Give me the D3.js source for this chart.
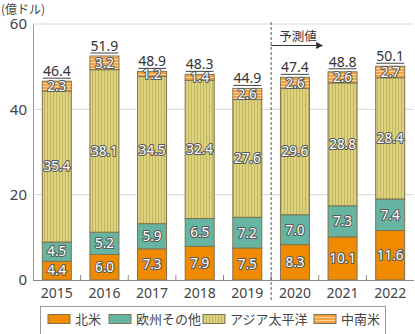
<!DOCTYPE html>
<html><head><meta charset="utf-8">
<script src="https://cdn.jsdelivr.net/npm/d3@7"></script>
<style>body{margin:0;background:#fff}svg{display:block;font-family:"Noto Sans CJK JP","Noto Sans",sans-serif}</style>
</head><body><svg id="c" width="415" height="334"></svg>
<script>
const years = ["2015","2016","2017","2018","2019","2020","2021","2022"];
const northAmerica = [4.4,6.0,7.3,7.9,7.5,8.3,10.1,11.6];
const europeOther = [4.5,5.2,5.9,6.5,7.2,7.0,7.3,7.4];
const asiaPacific = [35.4,38.1,34.5,32.4,27.6,29.6,28.8,28.4];
const latinAmerica = [2.3,3.2,1.2,1.4,2.6,2.6,2.6,2.7];
const totals = [46.4,51.9,48.9,48.3,44.9,47.4,48.8,50.1];
const seriesNames = ["北米","欧州その他","アジア太平洋","中南米"];
const yTicks = [0,20,40,60];

const svg = d3.select("#c");
const defs = svg.append("defs");
const pv = defs.append("pattern").attr("id","pv").attr("patternUnits","userSpaceOnUse").attr("width",3).attr("height",3);
pv.append("rect").attr("width",3).attr("height",3).attr("fill","#dcd282");
pv.append("rect").attr("x",2).attr("width",1).attr("height",3).attr("fill","#c3b75c");
const ph = defs.append("pattern").attr("id","ph").attr("patternUnits","userSpaceOnUse").attr("width",3).attr("height",3);
ph.append("rect").attr("width",3).attr("height",3).attr("fill","#f4a340");
ph.append("rect").attr("y",2).attr("width",3).attr("height",1).attr("fill","#fbd3a0");
const fills = ["#f08a00","#66b5a3","url(#pv)","url(#ph)"];

const x = d3.scaleBand().domain(years).range([33,414]).paddingInner(0.37).paddingOuter(0.185);
const y = d3.scaleLinear().domain([0,60]).range([280,24]);

// gridlines
svg.append("g").selectAll("line").data(yTicks.filter(d=>d>0)).join("line")
  .attr("x1",33).attr("x2",414).attr("y1",d=>y(d)).attr("y2",d=>y(d))
  .attr("stroke","#d8d8d8").attr("stroke-width",1);

// y axis
const ya = svg.append("g").attr("transform","translate(33,0)").call(d3.axisLeft(y).tickValues(yTicks).tickSize(0).tickPadding(6));
ya.select(".domain").attr("stroke","#999");
ya.selectAll("text").attr("font-size",15).attr("fill","#444").attr("font-family","'Noto Sans',sans-serif");

svg.append("text").attr("x",1).attr("y",14).attr("font-size",12).attr("fill","#444").text("(億ドル)");

// stack
const rows = years.map((yr,i)=>({year:yr, s0:northAmerica[i], s1:europeOther[i], s2:asiaPacific[i], s3:latinAmerica[i]}));
const stack = d3.stack().keys(["s0","s1","s2","s3"])(rows);

const g = svg.append("g");
stack.forEach((layer,li)=>{
  g.append("g").selectAll("rect").data(layer).join("rect")
    .attr("x",d=>x(d.data.year)+0.5).attr("width",x.bandwidth()-1)
    .attr("y",d=>y(d[1])).attr("height",d=>y(d[0])-y(d[1]))
    .attr("fill",fills[li]).attr("stroke","#7d7350").attr("stroke-width",1);
});

// segment labels (single text with outline via paint-order)
const vals = [northAmerica,europeOther,asiaPacific,latinAmerica];
stack.forEach((layer,li)=>{
  g.append("g").attr("text-anchor","middle").attr("font-size",13.5).attr("font-family","'Noto Sans',sans-serif")
    .selectAll("text").data(layer).join("text")
    .attr("x",d=>x(d.data.year)+x.bandwidth()/2).attr("y",d=>y((d[0]+d[1])/2)).attr("dy","0.36em")
    .attr("fill","#fff").attr("stroke","#5a5a5a").attr("stroke-width",2.2).attr("stroke-linejoin","round")
    .style("paint-order","stroke")
    .text((d,i)=>vals[li][i].toFixed(1));
});

// totals
const topLayer = stack[3];
const tg = svg.append("g").attr("font-family","'Noto Sans',sans-serif");
topLayer.forEach((d,i)=>{
  const cx = x(d.data.year)+x.bandwidth()/2, ty = y(d[1]);
  tg.append("text").attr("x",cx).attr("y",ty-5).attr("text-anchor","middle").attr("font-size",14).attr("fill","#333").text(totals[i].toFixed(1));
  tg.append("line").attr("x1",cx-14).attr("x2",cx+14).attr("y1",ty-3).attr("y2",ty-3).attr("stroke","#444").attr("stroke-width",1);
});

// x axis
const xa = svg.append("g").attr("transform","translate(0,280)").call(d3.axisBottom(x).tickSize(0).tickPadding(8));
xa.select(".domain").remove();
xa.selectAll("text").attr("font-size",14).attr("fill","#444").attr("font-family","'Noto Sans',sans-serif");
svg.append("line").attr("x1",33).attr("x2",414).attr("y1",280.5).attr("y2",280.5).attr("stroke","#888");
svg.append("g").selectAll("line").data(years.slice(1)).join("line")
  .attr("x1",d=>x(d)-x.step()*x.paddingInner()/2).attr("x2",d=>x(d)-x.step()*x.paddingInner()/2)
  .attr("y1",275).attr("y2",280).attr("stroke","#888");

// forecast divider
const dx = x("2020")-x.step()*x.paddingInner()/2;
svg.append("line").attr("x1",dx).attr("x2",dx).attr("y1",22).attr("y2",300).attr("stroke","#555").attr("stroke-dasharray","3,2");
svg.append("text").attr("x",dx+8).attr("y",41).attr("font-size",12.5).attr("fill","#333").text("予測値");
svg.append("line").attr("x1",dx).attr("x2",dx+46).attr("y1",45.5).attr("y2",45.5).attr("stroke","#333");
svg.append("path").attr("d",`M${dx+52},45.5 L${dx+45},42 L${dx+45},49 Z`).attr("fill","#333");

// legend
const leg = svg.append("g");
leg.append("rect").attr("x",40.5).attr("y",306.5).attr("width",345).attr("height",30).attr("fill","#fff").attr("stroke","#999");
const lx = [48,109,203,314];
seriesNames.forEach((n,i)=>{
  leg.append("rect").attr("x",lx[i]).attr("y",314.5).attr("width",22).attr("height",9).attr("fill",fills[i]).attr("stroke","#7d7350");
  leg.append("text").attr("x",lx[i]+27).attr("y",324).attr("font-size",13).attr("fill","#444").text(n);
});
</script></body></html>
